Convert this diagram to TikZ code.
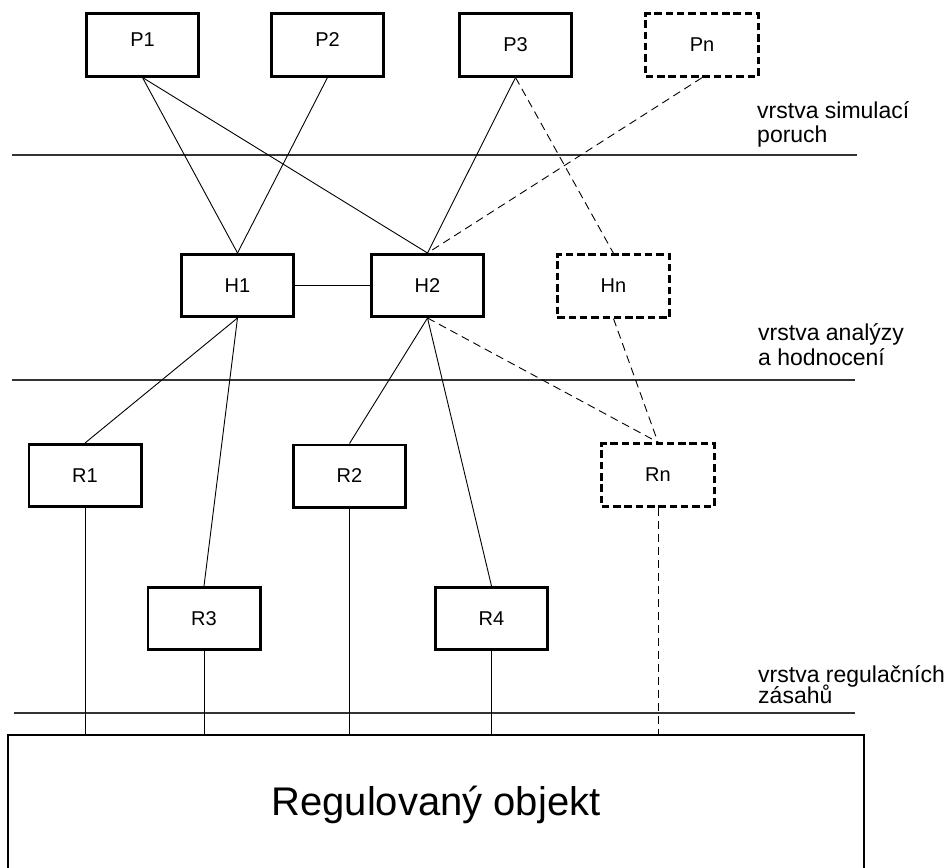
\documentclass[tikz,border=0pt]{standalone}
\usepackage{fontspec}
\setmainfont{Liberation Sans}
\begin{document}
\begin{tikzpicture}[x=1pt,y=-1pt,
  box/.style={draw, line width=2.6pt, minimum width=112.4pt, minimum height=62.4pt,
              inner sep=0pt, font=\fontsize{20}{22}\selectfont},
  dbox/.style={box, line width=3pt, dash pattern=on 7.5pt off 3.8pt},
  link/.style={line width=0.9pt},
  dlink/.style={line width=0.9pt, dash pattern=on 8pt off 5pt},
  layer/.style={line width=1.3pt, black!80},
  lab/.style={anchor=base west, inner sep=0pt, font=\fontsize{23}{25}\selectfont}]
\useasboundingbox (0,0) rectangle (952,867);
\clip (0,0) rectangle (952,867);

% layer separators
\draw[layer] (12,155) -- (857,155);
\draw[layer] (12,380) -- (855,380);
\draw[layer] (14,713) -- (855,713);

% layer captions
\node[lab] (l1a) at (757,118) {vrstva simulací};
\node[lab] (l1b) at (757,142.5) {poruch};
\node[lab] (l2a) at (758,340.5) {vrstva analýzy};
\node[lab] (l2b) at (758,365.5) {a hodnocení};
\node[lab] (l3a) at (758,682) {vrstva regulačních};
\node[lab] (l3b) at (758,703) {zásahů};

% fault simulation layer
\node[box, text depth=11pt] (P1) at (142.5,45) {P1};
\node[box, text depth=11pt] (P2) at (327.5,45) {P2};
\node[box] (P3) at (515.5,45) {P3};
\node[dbox] (Pn) at (702,45) {Pn};

% analysis and evaluation layer
\node[box] (H1) at (237.5,285.5) {H1};
\node[box] (H2) at (427.5,285.5) {H2};
\node[dbox] (Hn) at (613.5,286) {Hn};

% control action layer
\node[box] (R1) at (85,475.5) {R1};
\node[box] (R2) at (349.5,476) {R2};
\node[dbox] (Rn) at (658,475) {Rn};
\node[box] (R3) at (204,618.5) {R3};
\node[box] (R4) at (491.5,618.5) {R4};

% controlled plant
\node[draw, line width=2.6pt, minimum width=856pt, minimum height=140pt, inner sep=0pt,
      font=\fontsize{40}{44}\selectfont] (obj) at (436,805) {Regulovaný objekt};

% connections
\draw[link] (P1.south) -- (H1.north);
\draw[link] (P1.south) -- (H2.north);
\draw[link] (P2.south) -- (H1.north);
\draw[link] (P3.south) -- (H2.north);
\draw[dlink] (P3.south) -- (Hn.north);
\draw[dlink] (Pn.south) -- (H2.north);
\draw[link] (H1.east) -- (H2.west);
\draw[link] (H1.south) -- (R1.north);
\draw[link] (H1.south) -- (R3.north);
\draw[link] (H2.south) -- (R2.north);
\draw[link] (H2.south) -- (R4.north);
\draw[dlink] (H2.south) -- (Rn.north);
\draw[dlink] (Hn.south) -- (Rn.north);

\draw[link] (R1.south) -- (R1.south |- obj.north);
\draw[link] (R3.south) -- (R3.south |- obj.north);
\draw[link] (R2.south) -- (R2.south |- obj.north);
\draw[link] (R4.south) -- (R4.south |- obj.north);
\draw[dlink] (Rn.south) -- (Rn.south |- obj.north);
\end{tikzpicture}
\end{document}
